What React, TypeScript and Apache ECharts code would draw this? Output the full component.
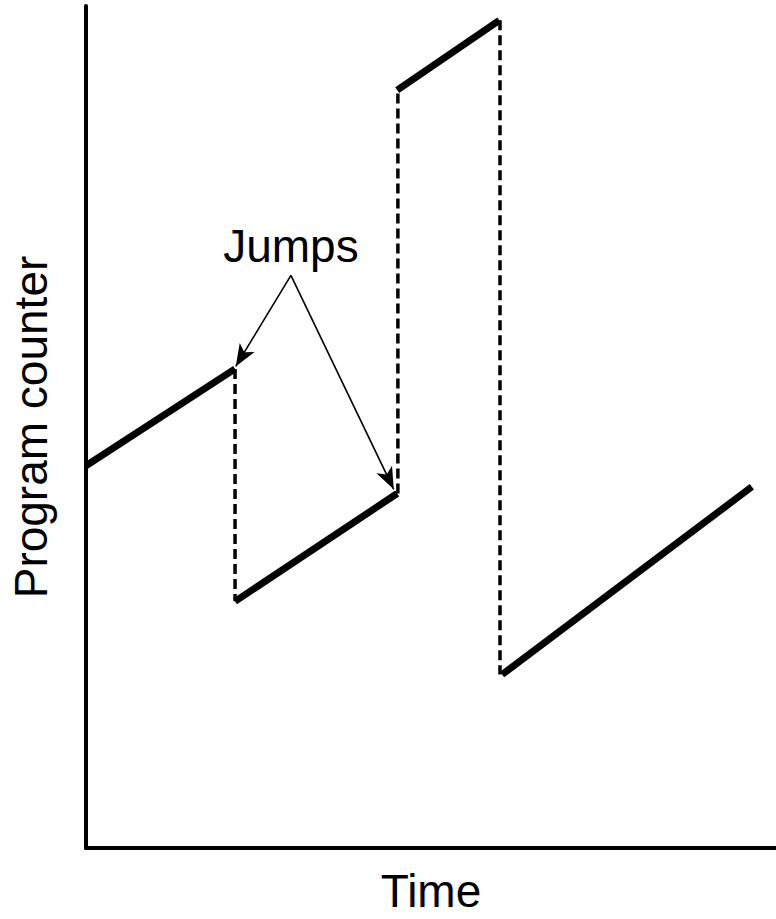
import React, { useEffect, useRef } from "react";
import * as echarts from "echarts";

// Time axis (arbitrary units 0..100) and program-counter axis (0..100)
const rampStartTime = [0, 21.6, 45.1, 60.3];
const rampEndTime = [21.6, 45.1, 59.9, 96.5];
const rampStartPC = [45.4, 29.3, 90.0, 20.6];
const rampEndPC = [56.9, 42.1, 98.3, 42.9];

const jumpTime = [21.6, 45.2, 60.0];
const jumpFromPC = [56.9, 42.1, 98.3];
const jumpToPC = [29.3, 90.0, 20.6];

const annotationText = "Jumps";
const annotationOrigin = [29.7, 68.0];
const arrowTargets = [
  [21.7, 57.2],
  [44.6, 42.6],
];

const xAxisName = "Time";
const yAxisName = "Program counter";

const FONT = "'Liberation Sans', Arial, Helvetica, sans-serif";

export default function App() {
  const ref = useRef<HTMLDivElement>(null);
  useEffect(() => {
    if (!ref.current) return;
    const chart = echarts.init(ref.current, undefined, { renderer: "svg" });

    const rampSeries = rampStartTime.map((t0, i) => ({
      type: "line",
      name: "ramp" + i,
      data: [
        [t0, rampStartPC[i]],
        [rampEndTime[i], rampEndPC[i]],
      ],
      symbol: "none",
      lineStyle: { color: "#000", width: 7, cap: "butt" },
      z: 3,
    }));

    const jumpSeries = jumpTime.map((t, i) => ({
      type: "line",
      name: "jump" + i,
      data: [
        [t, jumpFromPC[i]],
        [t, jumpToPC[i]],
      ],
      symbol: "none",
      lineStyle: { color: "#000", width: 3.5, type: [10, 5] },
      z: 2,
    }));

    const annotationSeries = {
      type: "line",
      name: "annotation",
      data: [],
      symbol: "none",
      markLine: {
        silent: true,
        symbol: ["none", "arrow"],
        symbolSize: [13, 22],
        lineStyle: { color: "#000", width: 1.6, type: "solid" },
        label: { show: false },
        data: arrowTargets.map((p) => [
          { coord: annotationOrigin },
          { coord: p },
        ]),
      },
      markPoint: {
        silent: true,
        symbol: "circle",
        symbolSize: 0,
        label: {
          show: true,
          position: "inside",
          offset: [0, -29],
          formatter: annotationText,
          color: "#000",
          fontSize: 46,
          fontFamily: FONT,
          verticalAlign: "middle",
          align: "center",
        },
        data: [{ coord: annotationOrigin }],
      },
    };

    chart.setOption({
      animation: false,
      backgroundColor: "#fff",
      grid: { left: 86, top: 6, right: 0, bottom: 67, containLabel: false },
      xAxis: {
        type: "value",
        min: 0,
        max: 100,
        name: xAxisName,
        nameLocation: "middle",
        nameGap: 20,
        nameTextStyle: { fontSize: 46, color: "#000", fontFamily: FONT },
        axisLine: { show: true, lineStyle: { color: "#000", width: 4 } },
        axisTick: { show: false },
        axisLabel: { show: false },
        splitLine: { show: false },
      },
      yAxis: {
        type: "value",
        min: 0,
        max: 100,
        name: yAxisName,
        nameLocation: "middle",
        nameGap: 32,
        nameTextStyle: { fontSize: 46, color: "#000", fontFamily: FONT },
        axisLine: { show: true, lineStyle: { color: "#000", width: 4 } },
        axisTick: { show: false },
        axisLabel: { show: false },
        splitLine: { show: false },
      },
      series: [...rampSeries, ...jumpSeries, annotationSeries],
    });

    return () => chart.dispose();
  }, []);

  return (
    <div
      ref={ref}
      style={{ position: "fixed", left: 0, top: 0, width: 776, height: 919, background: "#fff" }}
    />
  );
}
